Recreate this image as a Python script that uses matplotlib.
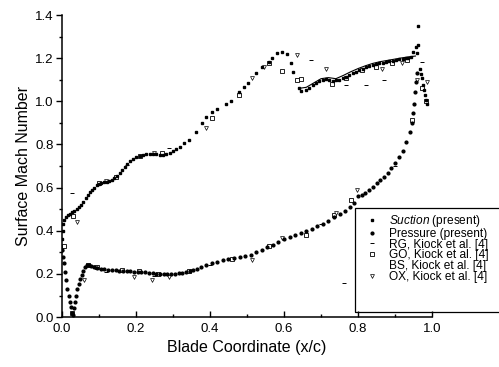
import matplotlib
matplotlib.use("Agg")
import matplotlib.pyplot as plt
from matplotlib.ticker import MultipleLocator, FormatStrFormatter
from matplotlib.lines import Line2D
from matplotlib.patches import Rectangle

plt.rcParams['font.family'] = ['Liberation Sans', 'DejaVu Sans']
plt.rcParams['mathtext.fontset'] = 'custom'
plt.rcParams['mathtext.it'] = 'Liberation Sans:italic'
plt.rcParams['mathtext.rm'] = 'Liberation Sans'

# ---- data: Suction side (present) ----
suction_x = [0.000, 0.001, 0.002, 0.004, 0.007, 0.011, 0.016, 0.022, 0.028, 0.034, 0.040, 0.046,
             0.052, 0.058, 0.064, 0.070, 0.076, 0.082, 0.088, 0.094, 0.100, 0.107, 0.114, 0.121,
             0.128, 0.135, 0.142, 0.149, 0.156, 0.163, 0.170, 0.177, 0.185, 0.193, 0.201, 0.210,
             0.219, 0.228, 0.237, 0.246, 0.255, 0.264, 0.273, 0.282, 0.291, 0.300, 0.309, 0.318,
             0.330, 0.343, 0.362, 0.378, 0.389, 0.405, 0.419, 0.443, 0.457, 0.478, 0.492, 0.503,
             0.524, 0.541, 0.559, 0.568, 0.581, 0.595, 0.608, 0.619, 0.624, 0.641, 0.645, 0.659,
             0.668, 0.677, 0.686, 0.695, 0.704, 0.713, 0.722, 0.731, 0.740, 0.749, 0.758, 0.767,
             0.776, 0.785, 0.794, 0.803, 0.812, 0.821, 0.830, 0.839, 0.848, 0.857, 0.866, 0.875,
             0.884, 0.893, 0.902, 0.911, 0.920, 0.929, 0.936, 0.942, 0.949, 0.956, 0.963, 0.963,
             0.960, 0.967, 0.969, 0.972, 0.976, 0.978, 0.981, 0.983, 0.987]
suction_y = [0.310, 0.360, 0.400, 0.430, 0.450, 0.465, 0.475, 0.480, 0.485, 0.490, 0.500, 0.510,
             0.520, 0.535, 0.550, 0.565, 0.580, 0.590, 0.600, 0.610, 0.618, 0.623, 0.626, 0.628,
             0.630, 0.636, 0.645, 0.655, 0.667, 0.680, 0.695, 0.710, 0.722, 0.732, 0.740, 0.745,
             0.750, 0.754, 0.756, 0.757, 0.755, 0.752, 0.752, 0.756, 0.762, 0.770, 0.780, 0.790,
             0.805, 0.820, 0.858, 0.900, 0.927, 0.950, 0.964, 0.987, 1.000, 1.043, 1.066, 1.085,
             1.131, 1.159, 1.182, 1.200, 1.224, 1.229, 1.219, 1.177, 1.136, 1.062, 1.050, 1.052,
             1.062, 1.075, 1.085, 1.095, 1.100, 1.102, 1.098, 1.095, 1.097, 1.099, 1.106, 1.114,
             1.122, 1.130, 1.138, 1.145, 1.151, 1.157, 1.163, 1.168, 1.172, 1.176, 1.180, 1.183,
             1.186, 1.188, 1.191, 1.195, 1.197, 1.199, 1.203, 1.207, 1.230, 1.253, 1.261, 1.349,
             1.222, 1.148, 1.127, 1.107, 1.076, 1.052, 1.029, 1.006, 0.990]

# ---- data: Pressure side (present) ----
pressure_x = [0.000, 0.003, 0.006, 0.009, 0.012, 0.015, 0.018, 0.021, 0.024, 0.027, 0.030, 0.033,
              0.036, 0.039, 0.042, 0.046, 0.050, 0.054, 0.058, 0.062, 0.067, 0.073, 0.080, 0.088,
              0.096, 0.105, 0.115, 0.125, 0.135, 0.145, 0.155, 0.165, 0.175, 0.185, 0.195, 0.205,
              0.215, 0.225, 0.235, 0.245, 0.255, 0.265, 0.275, 0.285, 0.295, 0.305, 0.315, 0.325,
              0.335, 0.345, 0.355, 0.365, 0.375, 0.390, 0.405, 0.420, 0.435, 0.450, 0.465, 0.480,
              0.495, 0.510, 0.525, 0.540, 0.555, 0.570, 0.585, 0.600, 0.615, 0.630, 0.645, 0.660,
              0.675, 0.690, 0.705, 0.720, 0.735, 0.750, 0.765, 0.778, 0.790, 0.800, 0.810, 0.820,
              0.830, 0.840, 0.850, 0.860, 0.870, 0.880, 0.890, 0.900, 0.910, 0.920, 0.930, 0.940,
              0.945, 0.949, 0.952, 0.955, 0.957, 0.960]
pressure_y = [0.310, 0.280, 0.250, 0.210, 0.170, 0.130, 0.100, 0.070, 0.045, 0.020, 0.010, 0.040,
              0.070, 0.100, 0.130, 0.155, 0.175, 0.195, 0.215, 0.230, 0.240, 0.243, 0.238, 0.233,
              0.228, 0.225, 0.222, 0.220, 0.218, 0.216, 0.215, 0.214, 0.213, 0.212, 0.211, 0.210,
              0.209, 0.207, 0.205, 0.203, 0.202, 0.201, 0.200, 0.200, 0.200, 0.201, 0.203, 0.206,
              0.209, 0.213, 0.218, 0.225, 0.233, 0.242, 0.250, 0.257, 0.263, 0.269, 0.274, 0.279,
              0.284, 0.290, 0.300, 0.310, 0.325, 0.335, 0.350, 0.360, 0.370, 0.382, 0.392, 0.400,
              0.410, 0.420, 0.433, 0.447, 0.462, 0.477, 0.493, 0.508, 0.530, 0.560, 0.565, 0.575,
              0.590, 0.605, 0.622, 0.635, 0.650, 0.670, 0.690, 0.712, 0.740, 0.770, 0.810, 0.860,
              0.900, 0.946, 0.990, 1.045, 1.090, 1.130]

# ---- data: Kiock et al. [4] ----
rg_x = [0.028, 0.176, 0.289, 0.120, 0.250, 0.400, 0.673, 0.768, 0.822, 0.870, 0.973, 0.762, 0.700, 0.900]
rg_y = [0.573, 0.705, 0.784, 0.210, 0.190, 0.240, 1.190, 1.075, 1.075, 1.099, 1.182, 0.159, 0.430, 0.700]

go_x = [0.005, 0.030, 0.100, 0.146, 0.210, 0.270, 0.405, 0.478, 0.560, 0.595, 0.635, 0.646,
        0.730, 0.768, 0.811, 0.849, 0.892, 0.932, 0.973, 0.984,
        0.027, 0.070, 0.095, 0.162, 0.208, 0.260, 0.343, 0.460, 0.560, 0.659, 0.735, 0.781, 0.946]
go_y = [0.330, 0.470, 0.620, 0.650, 0.745, 0.760, 0.925, 1.030, 1.180, 1.140, 1.100, 1.105,
        1.080, 1.108, 1.145, 1.160, 1.177, 1.191, 1.062, 1.000,
        0.020, 0.240, 0.232, 0.220, 0.213, 0.200, 0.215, 0.270, 0.330, 0.380, 0.473, 0.542, 0.913]

bs_x = [0.640, 0.660, 0.680, 0.700, 0.720, 0.740, 0.760, 0.780, 0.800, 0.820, 0.840, 0.860,
        0.880, 0.900, 0.920, 0.940, 0.955]
bs_y = [1.060, 1.065, 1.085, 1.105, 1.110, 1.105, 1.120, 1.137, 1.152, 1.165, 1.176, 1.184,
        1.190, 1.196, 1.202, 1.207, 1.210]

ox_x = [0.041, 0.120, 0.250, 0.389, 0.514, 0.546, 0.635, 0.714, 0.865, 0.919, 0.986,
        0.059, 0.090, 0.195, 0.243, 0.289, 0.514, 0.595, 0.741, 0.797, 0.960]
ox_y = [0.440, 0.630, 0.760, 0.876, 1.108, 1.160, 1.215, 1.150, 1.150, 1.177, 1.089,
        0.170, 0.230, 0.185, 0.172, 0.185, 0.264, 0.366, 0.482, 0.589, 1.100]

labels = [r"$\it{Suction}$ (present)", "Pressure (present)", "RG, Kiock et al. [4]",
          "GO, Kiock et al. [4]", "BS, Kiock et al. [4]", "OX, Kiock et al. [4]"]

fig = plt.figure(figsize=(4.99, 3.67), dpi=100)
ax = fig.add_axes([0.124, 0.136, 0.742, 0.823])

h_bs, = ax.plot(bs_x, bs_y, '-', color='black', lw=0.8)
h_rg, = ax.plot(rg_x, rg_y, '_', color='black', ms=2.5, mew=0.7, ls='none')
h_go, = ax.plot(go_x, go_y, 's', mfc='white', mec='black', ms=2.8, mew=0.6, ls='none')
h_ox, = ax.plot(ox_x, ox_y, 'v', mfc='white', mec='black', ms=2.8, mew=0.5, ls='none')
h_s, = ax.plot(suction_x, suction_y, 's', color='black', ms=1.8, ls='none')
h_p, = ax.plot(pressure_x, pressure_y, 'o', color='black', ms=2.0, ls='none')

ax.set_xlim(0, 1.0)
ax.set_ylim(0, 1.4)
ax.xaxis.set_major_locator(MultipleLocator(0.2))
ax.xaxis.set_minor_locator(MultipleLocator(0.1))
ax.yaxis.set_major_locator(MultipleLocator(0.2))
ax.yaxis.set_minor_locator(MultipleLocator(0.1))
ax.xaxis.set_major_formatter(FormatStrFormatter('%.1f'))
ax.yaxis.set_major_formatter(FormatStrFormatter('%.1f'))
ax.tick_params(axis='x', which='major', direction='in', length=4, width=1, labelsize=9.5, pad=4)
ax.tick_params(axis='x', which='minor', direction='in', length=2.5, width=1)
ax.tick_params(axis='y', which='major', direction='out', length=4, width=1, labelsize=9.5, pad=2)
ax.tick_params(axis='y', which='minor', direction='out', length=2.5, width=1)
for s in ['top', 'right']:
    ax.spines[s].set_visible(False)
for s in ['left', 'bottom']:
    ax.spines[s].set_linewidth(1.1)

ax.set_xlabel("Blade Coordinate (x/c)", fontsize=11.5, labelpad=4)
ax.set_ylabel("Surface Mach Number", fontsize=11.5, labelpad=3)

empty = Line2D([], [], ls='none', marker='none')
leg = fig.legend([h_s, h_p, h_rg, h_go, empty, h_ox], labels,
                 loc='upper left', bbox_to_anchor=(366 / 499, 1 - 213 / 367),
                 frameon=False, fontsize=8.6, handlelength=1.0, handletextpad=0.9,
                 labelspacing=-0.1, borderpad=0, borderaxespad=0)

rect = Rectangle((355 / 499, 1 - 312 / 367), 150 / 499, 104 / 367, transform=fig.transFigure,
                 fill=False, ec='black', lw=0.9, clip_on=False)
fig.patches.append(rect)

fig.savefig("out.png", dpi=100)
